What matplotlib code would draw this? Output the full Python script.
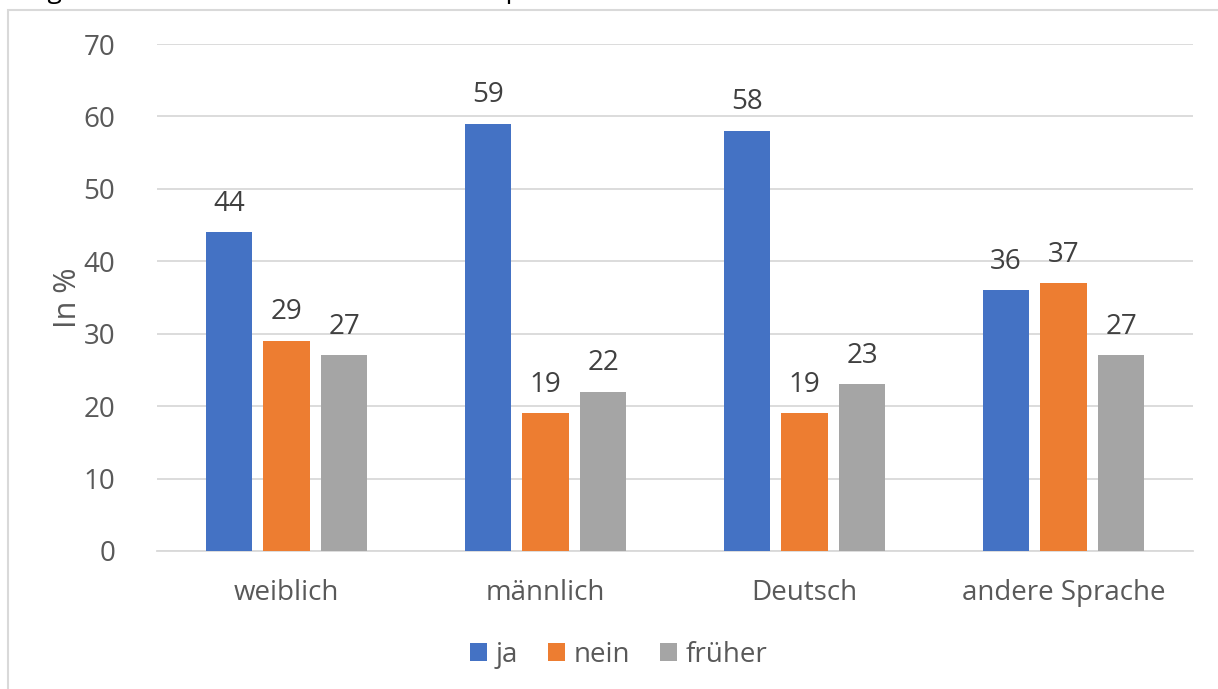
import matplotlib.pyplot as plt
import numpy as np
from matplotlib.patches import Rectangle

categories = ["weiblich", "männlich", "Deutsch", "andere Sprache"]
series = ["ja", "nein", "früher"]
ja = [44, 59, 58, 36]
nein = [29, 19, 19, 37]
frueher = [27, 22, 23, 27]
yticks = [0, 10, 20, 30, 40, 50, 60, 70]

colors = ["#4472C4", "#ED7D31", "#A5A5A5"]
text_color = "#595959"

plt.rcParams["font.family"] = ["Open Sans", "DejaVu Sans"]


def main():
    fig = plt.figure(figsize=(12.18, 6.89), dpi=100)
    ax = fig.add_axes([0.1289, 0.2003, 0.8506, 0.7358])

    # cropped caption and chart border
    fig.text(0.005, 1.012, "Vergleich nach Geschlecht und Familiensprache",
             fontsize=19, color="#000000", ha="left", va="center")
    fig.patches.append(Rectangle((8 / 1218, -0.1), 1.2, 1 - 10 / 689 + 0.1,
                                 transform=fig.transFigure, fill=False,
                                 edgecolor="#D9D9D9", linewidth=1.5))

    x = np.arange(len(categories))
    width = 0.178
    offsets = [-0.222, 0.0, 0.222]
    for vals, off, col, name in zip([ja, nein, frueher], offsets, colors, series):
        bars = ax.bar(x + off, vals, width, color=col, label=name, zorder=3)
        for b, v in zip(bars, vals):
            ax.text(b.get_x() + b.get_width() / 2, v + 2.0, str(v),
                    ha="center", va="bottom", fontsize=20, color="#404040")

    ax.set_xlim(-0.5, 3.5)
    ax.set_ylim(0, 70)
    ax.set_yticks(yticks)
    ax.set_xticks(x)
    ax.set_xticklabels(categories)
    ax.tick_params(axis="both", length=0, labelsize=20, labelcolor=text_color)
    ax.tick_params(axis="y", pad=30)
    ax.tick_params(axis="x", pad=20)
    ax.grid(axis="y", color="#D9D9D9", linewidth=1.3, zorder=0)
    for s in ["top", "right", "left"]:
        ax.spines[s].set_visible(False)
    ax.spines["bottom"].set_color("#D9D9D9")
    ax.spines["bottom"].set_linewidth(1.3)
    ax.set_ylabel("In %", fontsize=22, color=text_color, labelpad=0)

    fig.legend(loc="center", bbox_to_anchor=(0.508, 1 - 655 / 689), ncol=3,
               frameon=False, fontsize=20, labelcolor=text_color,
               handlelength=0.6, handleheight=0.6, handletextpad=0.3,
               columnspacing=1.1)

    fig.savefig("out.png", dpi=100)


if __name__ == "__main__":
    main()
